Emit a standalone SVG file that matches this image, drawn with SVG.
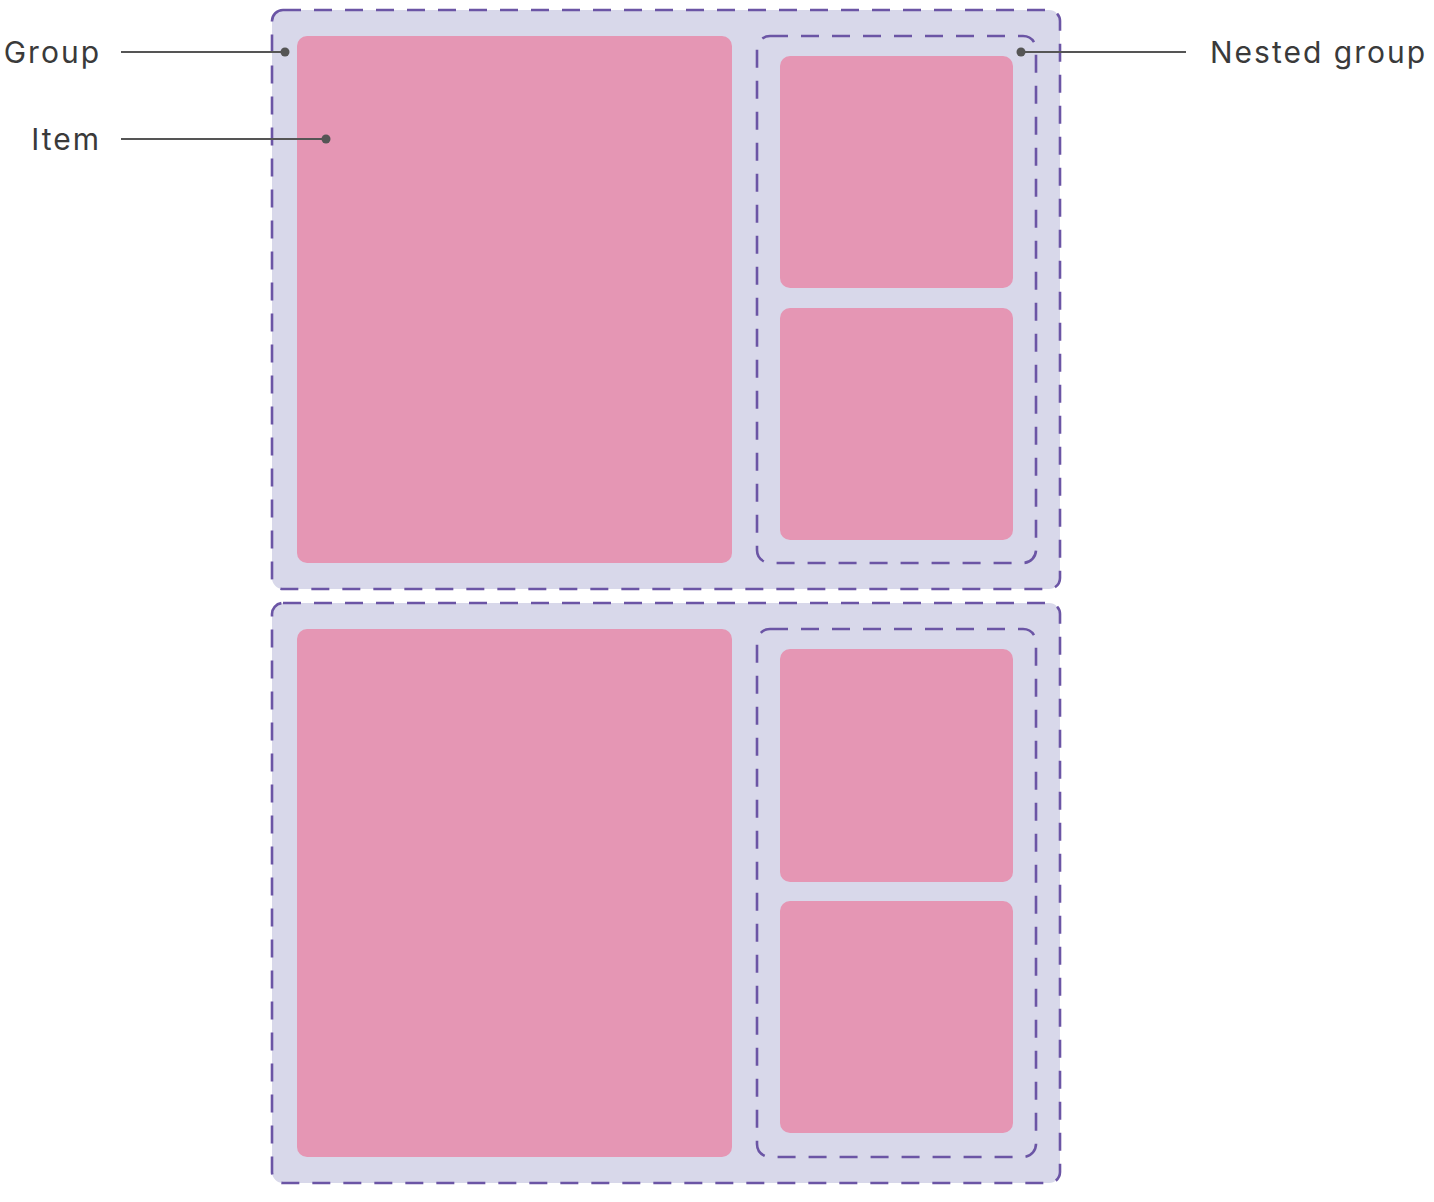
<svg xmlns="http://www.w3.org/2000/svg" width="1434" height="1202" viewBox="0 0 1434 1202">
<style>
.grp{fill:#D8D8EA;stroke:#6B55A5;stroke-width:2.6;stroke-dasharray:18 13}
.item{fill:#E596B4}
.lbl{font-family:Inter,"Liberation Sans",sans-serif;font-size:30px;letter-spacing:2px;fill:#3a3a3a}
.ln{stroke:#555;stroke-width:2.2;fill:none}
.dot{fill:#555}
</style>
<rect width="1434" height="1202" fill="#fff"/>
<g id="group1">
<rect class="grp" x="272" y="10" width="788" height="579" rx="11"/>
<rect id="item1" class="item" x="297" y="36" width="435" height="527" rx="10"/>
<g id="nested1">
<rect class="grp" x="757" y="36" width="279" height="527" rx="13"/>
<rect id="item2" class="item" x="780" y="56" width="233" height="232" rx="10"/>
<rect id="item3" class="item" x="780" y="308" width="233" height="232" rx="10"/>
</g>
</g>
<g id="group2">
<rect class="grp" x="272" y="603" width="788" height="580" rx="11"/>
<rect id="item4" class="item" x="297" y="629" width="435" height="528" rx="10"/>
<g id="nested2">
<rect class="grp" x="757" y="629" width="279" height="528" rx="13"/>
<rect id="item5" class="item" x="780" y="649" width="233" height="233" rx="10"/>
<rect id="item6" class="item" x="780" y="901" width="233" height="232" rx="10"/>
</g>
</g>
<g id="connectors">
<line class="ln" x1="121" y1="52" x2="285" y2="52"/>
<circle class="dot" cx="285" cy="52" r="4.5"/>
<line class="ln" x1="121" y1="139" x2="326" y2="139"/>
<circle class="dot" cx="326" cy="139" r="4.5"/>
<line class="ln" x1="1021" y1="52" x2="1186" y2="52"/>
<circle class="dot" cx="1021" cy="52" r="4.5"/>
</g>
<g id="labels">
<text class="lbl" x="101" y="63" text-anchor="end">Group</text>
<text class="lbl" x="101" y="150" text-anchor="end">Item</text>
<text class="lbl" x="1210" y="63">Nested group</text>
</g>
</svg>
